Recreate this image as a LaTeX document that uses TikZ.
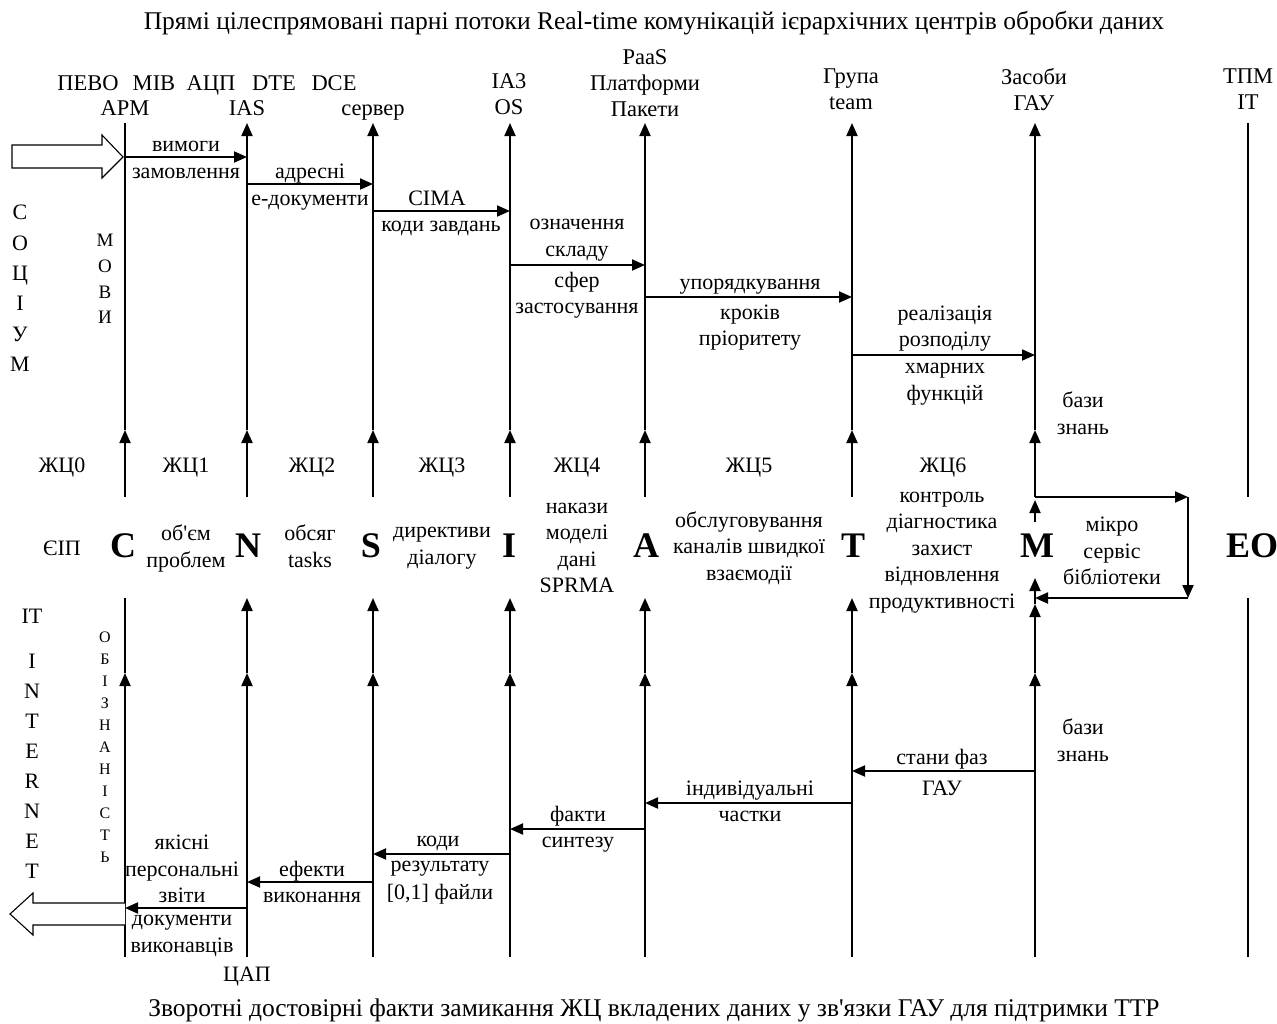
\documentclass[tikz,border=0pt]{standalone}
\usepackage{fontspec}
\setmainfont{Liberation Serif}
\usetikzlibrary{arrows.meta}
\tikzset{
 lf/.style={line width=1.9pt},
 arr/.style={line width=1.9pt,-{Triangle[length=13pt,width=11pt]}},
 st/.style={inner sep=0pt, align=center, yshift=-4pt, execute at begin node=\strut, execute at end node=\strut},
 txt/.style={st, font=\fontsize{22}{26.5}\selectfont},
 hdr/.style={st, font=\fontsize{22.5}{26}\selectfont},
 big/.style={font=\fontsize{36}{36}\selectfont\bfseries, inner sep=0pt},
 ttl/.style={st, font=\fontsize{25.5}{28}\selectfont},
 blk/.style={line width=1.1pt, fill=white, line join=miter},
 vsoc/.style={st, font=\fontsize{22}{30.4}\selectfont},
 vnet/.style={st, font=\fontsize{22}{30}\selectfont},
 vmov/.style={st, font=\fontsize{19}{25.7}\selectfont},
 vobi/.style={st, font=\fontsize{16}{22}\selectfont}
}
\begin{document}
\begin{tikzpicture}[x=1pt,y=-1pt]
\useasboundingbox (0,0) rectangle (1277,1023);
% lifeline x positions
\foreach \n/\x in {C/125,N/247,S/373,I/510,A/645,T/852,M/1035,E/1248,R/1188}{\coordinate (x\n) at (\x,0);}
% levels
\foreach \n/\y in {top/123,mu/430,ue/497,ls/598,ml/673,bt/957,h1/157,h2/184,h3/211,h4/265,h5/297,h6/355,g1/771,g2/803,g3/829,g4/854,g5/882,g6/908,ma/604,mb/578,mc/522,md/500}{\coordinate (y\n) at (0,\y);}

% titles
\node[ttl] (title) at (654,20) {Прямі цілеспрямовані парні потоки Real-time комунікацій ієрархічних центрів обробки даних};
\node[ttl] (subtitle) at (654,1007) {Зворотні достовірні факти замикання ЖЦ вкладених даних у зв\textquotesingle язки ГАУ для підтримки ТТР};

% header labels
\node[hdr] (h-pevo) at (88,81) {ПЕВО};
\node[hdr] (h-mib) at (154,81) {MIB};
\node[hdr] (h-acp) at (211,81) {АЦП};
\node[hdr] (h-dte) at (274,81) {DTE};
\node[hdr] (h-dce) at (334,81) {DCE};
\node[hdr] (h-arm) at (125,106) {АРМ};
\node[hdr] (h-ias) at (247,106) {IAS};
\node[hdr] (h-srv) at (373,106) {сервер};
\node[hdr] (h-ia3) at (509,94) {IA3\\OS};
\node[hdr] (h-paas) at (645,83) {PaaS\\Платформи\\Пакети};
\node[hdr] (h-team) at (851,89) {Група\\team};
\node[hdr] (h-gau) at (1034,89) {Засоби\\ГАУ};
\node[hdr] (h-tpm) at (1248,89) {ТПМ\\IT};

% lifelines
\foreach \n in {N,S,I,A,T}{
 \draw[arr] (x\n |- yue) -- (x\n |- ymu);
 \draw[arr] (x\n |- ymu) -- (x\n |- ytop);
 \draw[arr] (x\n |- ybt) -- (x\n |- yml);
 \draw[arr] (x\n |- yml) -- (x\n |- yls);
}
\draw[arr] (xC |- yue) -- (xC |- ymu);
\draw[lf] (xC |- ymu) -- (xC |- ytop);
\draw[arr] (xC |- ybt) -- (xC |- yml);
\draw[lf] (xC |- yml) -- (xC |- yls);
\draw[arr] (xM |- yue) -- (xM |- ymu);
\draw[arr] (xM |- ymu) -- (xM |- ytop);
\draw[arr] (xM |- ybt) -- (xM |- yml);
\draw[arr] (xM |- yml) -- (xM |- yma);
\draw[arr] (xM |- yma) -- (xM |- ymb);
\draw[arr] (xM |- ymc) -- (xM |- ymd);
\draw[lf] (xE |- ytop) -- (xE |- yue);
\draw[lf] (xE |- yls) -- (xE |- ybt);

% feedback loop
\draw[arr] (xM |- yue) -- (xR |- yue);
\draw[arr] (xR |- yue) -- (xR |- yls);
\draw[arr] (xR |- yls) -- (xM |- yls);

% forward messages
\draw[arr] (xC |- yh1) -- (xN |- yh1);
\draw[arr] (xN |- yh2) -- (xS |- yh2);
\draw[arr] (xS |- yh3) -- (xI |- yh3);
\draw[arr] (xI |- yh4) -- (xA |- yh4);
\draw[arr] (xA |- yh5) -- (xT |- yh5);
\draw[arr] (xT |- yh6) -- (xM |- yh6);
% backward messages
\draw[arr] (xM |- yg1) -- (xT |- yg1);
\draw[arr] (xT |- yg2) -- (xA |- yg2);
\draw[arr] (xA |- yg3) -- (xI |- yg3);
\draw[arr] (xI |- yg4) -- (xS |- yg4);
\draw[arr] (xS |- yg5) -- (xN |- yg5);
\draw[arr] (xN |- yg6) -- (xC |- yg6);

% block arrows
\draw[blk] (12,145) -- (102,145) -- (102,135) -- (123,157) -- (102,178) -- (102,168) -- (12,168) -- cycle;
\draw[blk] (125,903) -- (33,903) -- (33,893) -- (10,914) -- (33,935) -- (33,925) -- (125,925);

% upper message labels
\node[txt] (u1a) at (186,142) {вимоги};
\node[txt] (u1b) at (186,169) {замовлення};
\node[txt] (u2a) at (310,169) {адресні};
\node[txt] (u2b) at (310,196) {е-документи};
\node[txt] (u3a) at (437,196) {CIMA};
\node[txt] (u3b) at (441,222) {коди завдань};
\node[txt] (u4a) at (577,238) {означення\\складу};
\node[txt] (u4b) at (577,293) {сфер\\застосування};
\node[txt] (u5a) at (750,280) {упорядкування};
\node[txt] (u5b) at (750,325) {кроків\\пріоритету};
\node[txt] (u6a) at (945,326) {реалізація\\розподілу};
\node[txt] (u6b) at (945,382) {хмарних\\функцій};
\node[txt] (kb1) at (1083,413) {бази\\знань};

% life cycle labels
\foreach \i/\x in {0/62,1/186,2/312,3/442,4/577,5/749,6/943}{\node[txt] (zc\i) at (\x,463) {ЖЦ\i};}

% middle band
\node[txt] (eip) at (62,546) {ЄІП};
\node[big] (C) at (123,546) {C};
\node[big] (N) at (248,546) {N};
\node[big] (S) at (371,546) {S};
\node[big] (I) at (509,546) {I};
\node[big] (A) at (646,546) {A};
\node[big] (T) at (853,546) {T};
\node[big] (M) at (1037,546) {M};
\node[big] (EO) at (1252,546) {EO};
\node[txt] (m1) at (186,546) {об\textquotesingle єм\\проблем};
\node[txt] (m2) at (310,546) {обсяг\\tasks};
\node[txt] (m3) at (442,546) {директиви\\діалогу};
\node[txt] (m4) at (577,548) {накази\\моделі\\дані\\SPRMA};
\node[txt] (m5) at (749,546) {обслуговування\\каналів швидкої\\взаємодії};
\node[txt] (m6) at (942,550) {контроль\\діагностика\\захист\\відновлення\\продуктивності};
\node[txt] (m7) at (1112,551) {мікро\\сервіс\\бібліотеки};

% lower message labels
\node[txt] (kb2) at (1083,740) {бази\\знань};
\node[txt] (l1a) at (942,755) {стани фаз};
\node[txt] (l1b) at (942,786) {ГАУ};
\node[txt] (l2a) at (750,786) {індивідуальні};
\node[txt] (l2b) at (750,812) {частки};
\node[txt] (l3a) at (578,812) {факти};
\node[txt] (l3b) at (578,838) {синтезу};
\node[txt] (l4a) at (438,837) {коди};
\node[txt] (l4b) at (440,880) {результату\\[1.5pt]{[0,1]} файли};
\node[txt] (l5a) at (312,867) {ефекти};
\node[txt] (l5b) at (312,893) {виконання};
\node[txt] (l6a) at (182,869) {якісні\\персональні\\звіти};
\node[txt] (l6b) at (182,934) {документи\\виконавців};
\node[txt] (cap) at (247,972) {ЦАП};

% left vertical words
\node[vsoc] (soc) at (20,289) {С\\О\\Ц\\І\\У\\М};
\node[vmov] (mov) at (105,279) {М\\О\\В\\И};
\node[txt] (it) at (32,614) {IT};
\node[vnet] (inet) at (32,767) {I\\N\\T\\E\\R\\N\\E\\T};
\node[vobi] (obi) at (105,746) {О\\Б\\І\\З\\Н\\А\\Н\\І\\С\\Т\\Ь};
\end{tikzpicture}
\end{document}
